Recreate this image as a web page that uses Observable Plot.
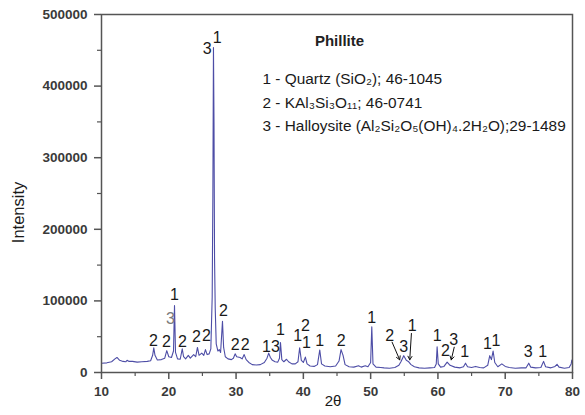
<!DOCTYPE html>
<html>
<head>
<meta charset="utf-8">
<script src="https://cdn.jsdelivr.net/npm/d3@7"></script>
<script src="https://cdn.jsdelivr.net/npm/@observablehq/plot@0.6"></script>
<style>
  html, body { margin: 0; padding: 0; background: #fff; }
  #chart svg { display: block; }
</style>
</head>
<body>
<div id="chart"></div>
<script>
// XRD pattern (2θ in degrees, intensity in counts)
const twoTheta = [
  10.0, 10.8, 11.5, 12.0, 12.3, 12.7, 13.2, 13.6, 13.8, 14.1, 14.6, 15.3, 16.0, 16.8, 17.3, 17.6, 17.77, 17.95,
  18.3, 18.9, 19.4, 19.7, 20.0, 20.4, 20.7, 20.85, 21.0, 21.3, 21.7, 22.0, 22.2, 22.5, 22.9, 23.2, 23.7, 24.0,
  24.26, 24.5, 24.9, 25.2, 25.45, 25.7, 26.0, 26.25, 26.45, 26.55, 26.64, 26.72, 26.8, 26.9, 27.05, 27.3, 27.5,
  27.7, 27.98, 28.15, 28.4, 28.8, 29.3, 29.6, 29.86, 30.1, 30.6, 30.9, 31.2, 31.5, 31.9, 32.4, 33.0, 33.6, 34.2,
  34.6, 34.85, 35.1, 35.4, 35.8, 36.2, 36.45, 36.6, 36.8, 37.1, 37.5, 37.8, 38.3, 38.8, 39.2, 39.45, 39.7, 40.0,
  40.3, 40.55, 41.0, 41.6, 42.1, 42.44, 42.7, 43.2, 44.0, 44.8, 45.3, 45.6, 45.9, 46.2, 46.8, 47.5, 48.2, 48.6,
  49.2, 49.6, 50.0, 50.17, 50.35, 50.8, 51.5, 52.0, 52.8, 53.6, 54.2, 54.5, 54.92, 55.3, 55.6, 56.0, 56.5, 57.2,
  58.0, 58.8, 59.5, 59.75, 59.88, 60.05, 60.4, 60.9, 61.37, 61.8, 62.5, 63.3, 63.8, 64.1, 64.4, 65.0, 65.6, 66.2,
  66.8, 67.4, 67.7, 67.95, 68.2, 68.45, 68.9, 69.5, 70.0, 70.6, 71.5, 72.4, 73.1, 73.5, 73.8, 74.5, 75.3, 75.7,
  76.0, 76.8, 77.4, 77.7, 78.0, 78.8, 79.5, 79.8, 79.9, 80.0
];
const intensity = [
  13000, 13500, 15000, 19000, 21000, 17000, 15500, 15000, 17000, 15500, 15500, 14500, 15000, 15500, 16500, 24000, 34500, 24000,
  17500, 18000, 20000, 30500, 22000, 21000, 30000, 93500, 28000, 19000, 18500, 33000, 22000, 19000, 24000, 20000, 25000, 22000,
  35000, 24000, 27000, 24000, 32000, 25000, 26000, 33000, 105000, 245000, 454000, 350000, 160000, 90000, 40000, 30000, 32000,
  28000, 71500, 35000, 22000, 19000, 18000, 20000, 26000, 22000, 21000, 19000, 25000, 18000, 14000, 11000, 10500, 11000, 14000,
  20000, 27000, 21000, 17000, 15000, 14500, 20000, 42000, 18000, 15000, 18500, 15000, 12000, 12000, 15000, 34500, 17000, 14000,
  21500, 12000, 9000, 8500, 11000, 31500, 12000, 9000, 8000, 9000, 16000, 32000, 24000, 11000, 8000, 7500, 9500, 7500,
  9500, 8000, 14000, 64000, 12000, 7500, 7000, 6500, 6000, 7000, 10000, 15000, 23500, 17000, 15500, 11000, 8000, 6500,
  6000, 6500, 7000, 12000, 36000, 12000, 7500, 8500, 14500, 10000, 7500, 6500, 8000, 13000, 8000, 7000, 8500, 7000,
  6500, 10000, 23500, 18000, 30000, 14000, 8000, 12000, 8500, 7000, 6000, 6500, 6500, 13000, 7500, 6500, 7000, 15500,
  8000, 6500, 8500, 11500, 7500, 6000, 7000, 12000, 17500, 14000
];

// Peak phase labels (1 = quartz, 2 = KAl3Si3O11, 3 = halloysite)
const labelText = ["2","2","1","3","2","2","2","3","1","2","2","2","1","3","1","1","2","1","1","2","1","2","3","1","1","2","3","1","1","1","3","1"];
const labelX = [17.73, 19.66, 20.85, 20.25, 22.04, 24.12, 25.6, 25.7, 27.19, 28.13, 29.87, 31.35, 34.52, 35.85, 36.6, 39.17,
  40.31, 40.46, 42.44, 45.62, 50.16, 52.84, 54.92, 56.17, 59.88, 61.11, 62.35, 63.98, 67.35, 68.62, 73.4, 75.57];
const labelY = [44700, 43300, 108900, 75400, 43300, 49300, 51700, 452500, 467900, 86600, 39100, 39100, 36300, 36300, 60000, 51700,
  65600, 40900, 44700, 43700, 76800, 51700, 35300, 65600, 51700, 30700, 45700, 28400, 40100, 44700, 28400, 28400];
const labelMuted = [false,false,false,true,false,false,false,false,false,false,false,false,false,false,false,false,
  false,false,false,false,false,false,false,false,false,false,false,false,false,false,false,false];

// Pointer arrows for overlapping reflections
const arrowX1 = [53.19, 56.06, 62.42];
const arrowY1 = [42300, 54500, 35300];
const arrowX2 = [54.32, 55.81, 61.98];
const arrowY2 = [17700, 17700, 17700];

// Axis ticks
const xTicks = [10, 20, 30, 40, 50, 60, 70, 80];
const xMinorTicks = [15, 25, 35, 45, 55, 65, 75];
const yTicks = [0, 100000, 200000, 300000, 400000, 500000];
const yMinorTicks = [50000, 150000, 250000, 350000, 450000];

// Legend text
const chartTitle = "Phillite";
const legendLines = [
  "1 - Quartz (SiO\u2082); 46-1045",
  "2 - KAl\u2083Si\u2083O\u2081\u2081; 46-0741",
  "3 - Halloysite (Al\u2082Si\u2082O\u2085(OH)\u2084.2H\u2082O);29-1489"
];
const xLabel = "2\u03b8";
const yLabel = "Intensity";

const pattern = twoTheta.map((t, i) => ({t, v: intensity[i]}));
const labels = labelText.map((s, i) => ({s, x: labelX[i], y: labelY[i], muted: labelMuted[i]}));
const arrows = arrowX1.map((x1, i) => ({x1, y1: arrowY1[i], x2: arrowX2[i], y2: arrowY2[i]}));

const font = "'Liberation Sans', Arial, Helvetica, sans-serif";
const axisColor = "#555";
const tickTextColor = "#3a3a3a";
const legendOffsets = [59, 83, 106];

const chart = Plot.plot({
  width: 585,
  height: 415,
  marginLeft: 101,
  marginRight: 13,
  marginTop: 14,
  marginBottom: 43,
  style: {fontFamily: font, background: "#fff"},
  x: {domain: [10, 80]},
  y: {domain: [0, 500000]},
  marks: [
    Plot.line(pattern, {x: "t", y: "v", stroke: "#4d4da6", strokeWidth: 1.1}),
    Plot.text(labels, {x: "x", y: "y", text: "s", fill: d => d.muted ? "#7a7a7a" : "#1a1a1a", fontSize: 16}),
    Plot.arrow(arrows, {x1: "x1", y1: "y1", x2: "x2", y2: "y2", stroke: "#111", strokeWidth: 1, headLength: 6}),
    Plot.axisX({ticks: xTicks, tickSize: 7, tickPadding: 7, stroke: axisColor, strokeWidth: 1.5, fill: tickTextColor,
      fontSize: 13.5, fontWeight: "bold", tickFormat: d3.format("d"), label: null}),
    Plot.axisX({ticks: xMinorTicks, tickSize: 4, stroke: axisColor, strokeWidth: 1.2, text: null, label: null}),
    Plot.axisY({ticks: yTicks, tickSize: 7, tickPadding: 7, stroke: axisColor, strokeWidth: 1.5, fill: tickTextColor,
      fontSize: 13.5, fontWeight: "bold", tickFormat: d3.format("d"), label: null}),
    Plot.axisY({ticks: yMinorTicks, tickSize: 4, stroke: axisColor, strokeWidth: 1.2, text: null, label: null}),
    Plot.frame({stroke: axisColor, strokeWidth: 1.5}),
    Plot.text([yLabel], {x: () => 10, y: () => 223500, dx: -83, rotate: -90, fontSize: 16.5, fill: "#1a1a1a"}),
    Plot.text([xLabel], {frameAnchor: "bottom", dx: -4, dy: 33, fontSize: 15, fill: "#1a1a1a"}),
    Plot.text([chartTitle], {frameAnchor: "top-left", dx: 238, dy: 21, textAnchor: "middle", fontSize: 15, fontWeight: "bold", fill: "#222"}),
    ...legendLines.map((line, i) => Plot.text([line], {frameAnchor: "top-left", dx: 161, dy: legendOffsets[i],
      textAnchor: "start", fontSize: 15.4, fill: "#1a1a1a"}))
  ]
});

document.getElementById("chart").append(chart);
</script>
</body>
</html>
